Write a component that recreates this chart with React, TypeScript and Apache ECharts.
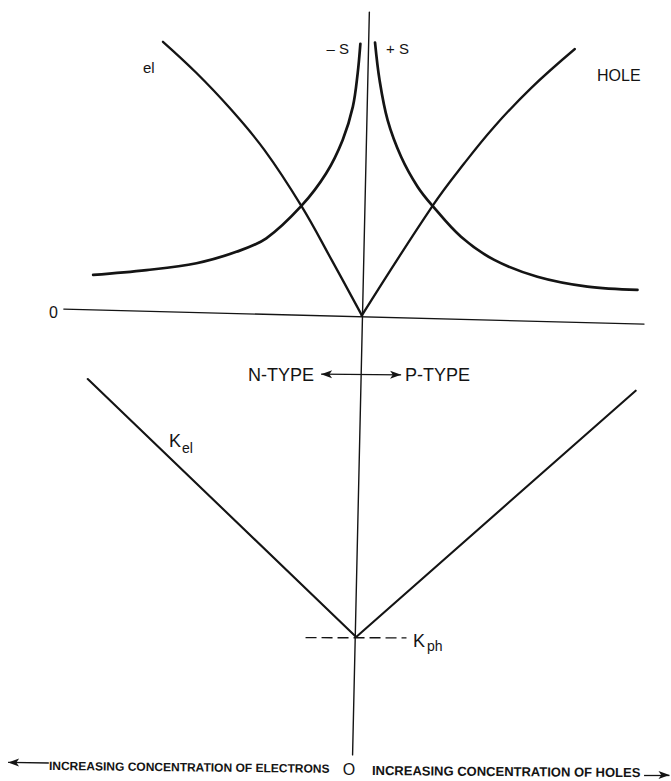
import React, { useEffect, useRef } from "react";
import * as echarts from "echarts";

// Abstract data frame: x = concentration (n-type < 0 < p-type), y = property value
// Upper panel: Seebeck coefficient (|S|) and conductivity; lower panel: thermal conductivity (offset)
const seebeckNeg: [number, number][] = [
  [-8.89, 1.37], [-7.11, 1.53], [-5.44, 1.76], [-4.11, 2.14], [-3.11, 2.59],
  [-1.94, 3.67], [-1.11, 4.76], [-0.56, 5.87], [-0.22, 6.98], [-0.06, 8.09], [0.03, 9.07],
];
const seebeckPos: [number, number][] = [
  [0.52, 9.11], [0.67, 7.87], [0.94, 6.53], [1.39, 5.31], [1.94, 4.31], [2.44, 3.67],
  [3.39, 2.64], [4.5, 1.87], [5.94, 1.31], [7.61, 0.98], [9.28, 0.87],
];
const sigmaElectron: [number, number][] = [
  [-6.56, 9.14], [-5.44, 8.1], [-4.33, 6.93], [-3.17, 5.53],
  [-1.94, 3.67], [-0.93, 1.87], [0.08, 0.02],
];
const sigmaHole: [number, number][] = [
  [0.08, 0.02], [2.44, 3.67], [3.5, 5.09], [4.5, 6.31], [5.72, 7.59], [7.19, 8.9],
];
const zeroLine: [number, number][] = [[-9.87, 0.23], [9.5, -0.27]];
const verticalAxis: [number, number][] = [[0.33, 10.13], [-0.23, -14.63]];
const kappaTotal: [number, number][] = [[-9.07, -2.1], [-0.11, -10.7], [9.22, -2.49]];
const kappaPhonon: [number, number][] = [[-1.8, -10.72], [1.57, -10.73]];
const typeArrow: [number, number][] = [[-1.28, -1.94], [1.39, -1.96]];
const electronArrow: [number, number][] = [[-10.37, -14.9], [-11.73, -14.88]];
const holeArrow: [number, number][] = [[9.5, -15.3], [10.35, -15.3]];

const INK = "#141414";
const FONT = "'Liberation Sans', Arial, sans-serif";

function txt(text: string, x: number, y: number, size: number, opts: any = {}) {
  return {
    type: "text",
    x,
    y,
    rotation: opts.rotation || 0,
    silent: true,
    style: {
      text,
      fill: INK,
      fontSize: size,
      fontFamily: FONT,
      fontWeight: opts.weight || "normal",
      textAlign: opts.align || "left",
      textVerticalAlign: "middle",
    },
  };
}

export default function App() {
  const ref = useRef<HTMLDivElement>(null);
  useEffect(() => {
    const chart = echarts.init(ref.current!, null, { renderer: "svg" });
    const line = (data: [number, number][], width: number, smooth: number | boolean = false, extra: any = {}) => ({
      type: "line",
      data,
      smooth,
      showSymbol: false,
      symbol: "none",
      silent: true,
      clip: false,
      lineStyle: { color: INK, width, cap: "round", join: "round", ...(extra.lineStyle || {}) },
      ...extra.rest,
    });
    const arrowLine = (a: [number, number][], both: boolean) => [
      { coord: a[0], symbol: both ? "arrow" : "none" },
      { coord: a[1], symbol: "arrow" },
    ];
    chart.setOption({
      animation: false,
      backgroundColor: "#ffffff",
      grid: { left: 0, top: 1, width: 672, height: 780 },
      xAxis: { type: "value", min: -12, max: 10.4, show: false },
      yAxis: { type: "value", min: -15.5, max: 10.5, show: false },
      series: [
        line(verticalAxis, 1.4, false, {
          rest: {
            markLine: {
              silent: true,
              symbolSize: [6, 11],
              label: { show: false },
              lineStyle: { color: INK, width: 1.3, type: "solid" },
              data: [
                arrowLine(typeArrow, true),
                arrowLine(electronArrow, false),
                arrowLine(holeArrow, false),
              ],
            },
          },
        }),
        line(zeroLine, 1.3),
        line(seebeckNeg, 2.7, 0.35),
        line(seebeckPos, 2.7, 0.35),
        line(sigmaElectron, 2.3, 0.4),
        line(sigmaHole, 2.3, 0.4),
        line(kappaTotal, 2.1),
        line(kappaPhonon, 1.4, false, { lineStyle: { type: [11, 5], cap: "butt" } }),
      ],
      graphic: [
        txt("– S", 349, 48, 15, { align: "right" }),
        txt("+ S", 386, 48, 15),
        txt("el", 143, 67, 15),
        txt("HOLE", 597, 75, 16),
        txt("0", 53.5, 312, 16, { align: "center" }),
        txt("N-TYPE", 248, 375, 18),
        txt("P-TYPE", 405, 375, 18),
        txt("K", 169, 441, 18),
        txt("el", 182, 448, 14),
        txt("K", 413, 641, 18),
        txt("ph", 427, 646, 14),
        txt("INCREASING CONCENTRATION OF ELECTRONS", 49, 766, 12, { weight: "bold", rotation: -0.01 }),
        txt("O", 349, 769, 16, { align: "center" }),
        txt("INCREASING CONCENTRATION OF HOLES", 372, 770.5, 13, { weight: "bold", rotation: -0.008 }),
      ],
    });
    return () => chart.dispose();
  }, []);
  return (
    <div
      ref={ref}
      style={{ position: "fixed", left: 0, top: 0, width: 671, height: 781, background: "#fff" }}
    />
  );
}
